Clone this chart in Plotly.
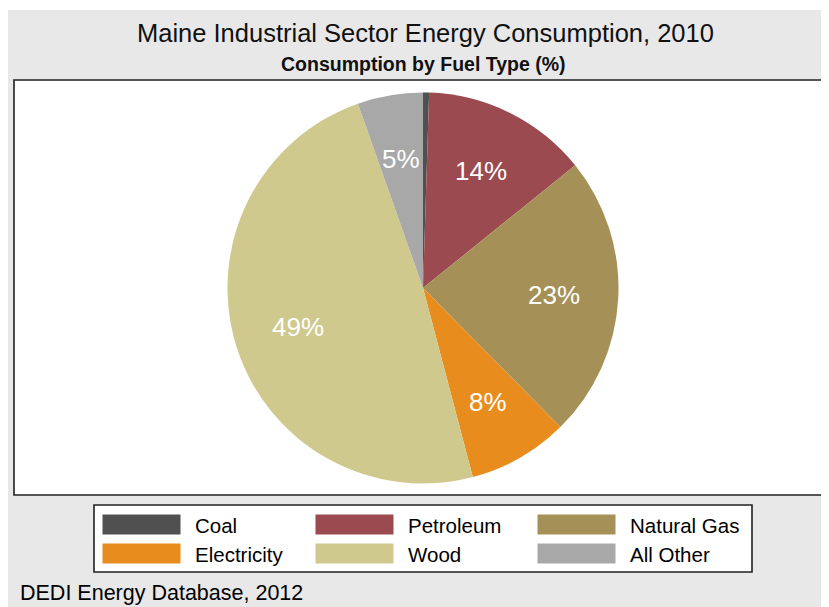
import math
import plotly.graph_objects as go

# page body has an 8px margin; figure is sized to fit the 829x607 window
OFF = 8
W, H = 829 - OFF, 607 - OFF

fuel_types = ["Coal", "Petroleum", "Natural Gas", "Electricity", "Wood", "All Other"]
shares = [0.5, 13.7, 23.4, 8.3, 48.7, 5.4]
colors = ["#505050", "#9b4a50", "#a59158", "#e88c1e", "#cfc98e", "#a8a8a8"]
show_label = [False, True, True, True, True, True]

title = "Maine Industrial Sector Energy Consumption, 2010"
subtitle = "Consumption by Fuel Type (%)"
source = "DEDI Energy Database, 2012"

FONT = "Liberation Sans, Arial, sans-serif"


def px(x):
    return (x - OFF) / W


def py(y):
    return 1 - (y - OFF) / H


# pie geometry (window pixels)
CX, CY, R = 423, 288, 195.5

fig = go.Figure()
fig.add_trace(go.Pie(
    labels=fuel_types,
    values=shares,
    sort=False,
    direction="clockwise",
    rotation=0,
    marker=dict(colors=colors, line=dict(width=0)),
    textinfo="none",
    domain=dict(x=[px(CX - R), px(CX + R)], y=[py(CY + R), py(CY - R)]),
    showlegend=False,
    hoverinfo="label+percent",
))

shapes = [
    dict(type="rect", xref="paper", yref="paper", x0=px(7), x1=1.02, y0=-0.02, y1=py(10),
         fillcolor="#e8e8e8", line=dict(width=0), layer="below"),
    dict(type="rect", xref="paper", yref="paper", x0=px(14), x1=px(845), y0=py(495), y1=py(80),
         fillcolor="white", line=dict(color="#202020", width=1.6), layer="below"),
    dict(type="rect", xref="paper", yref="paper", x0=px(94), x1=px(752), y0=py(572), y1=py(505),
         fillcolor="white", line=dict(color="#202020", width=1.6), layer="below"),
]

annotations = [
    dict(text=title, x=px(425), y=py(33), xref="paper", yref="paper", showarrow=False,
         font=dict(family=FONT, size=25.5, color="#111111"), xanchor="center", yanchor="middle"),
    dict(text="<b>" + subtitle + "</b>", x=px(424), y=py(64), xref="paper", yref="paper",
         showarrow=False,
         font=dict(family=FONT, size=19.5, color="#111111"), xanchor="center", yanchor="middle"),
    dict(text=source, x=px(18), y=py(593), xref="paper", yref="paper", showarrow=False,
         font=dict(family=FONT, size=21.5, color="black"), xanchor="left", yanchor="middle"),
]

# slice percentage labels, placed along each slice's mid-angle
total = sum(shares)
cum = 0.0
for name, v, show in zip(fuel_types, shares, show_label):
    mid = (cum + v / 2) / total * 2 * math.pi
    cum += v
    if not show:
        continue
    lx = CX + 0.67 * R * math.sin(mid)
    ly = CY - 0.67 * R * math.cos(mid)
    annotations.append(dict(text=f"{round(v / total * 100)}%", x=px(lx), y=py(ly),
                            xref="paper", yref="paper", showarrow=False,
                            font=dict(family=FONT, size=26, color="white"),
                            xanchor="center", yanchor="middle"))

# legend (3 columns x 2 rows)
col_sw_x = [102, 315, 537]
row_y = [514, 543]
sw_w, sw_h = 79, 21
text_gap = 12
for i, (name, col) in enumerate(zip(fuel_types, colors)):
    c, r = i % 3, i // 3
    x0 = col_sw_x[c]
    y0 = row_y[r]
    shapes.append(dict(type="rect", xref="paper", yref="paper",
                       x0=px(x0), x1=px(x0 + sw_w), y0=py(y0 + sw_h), y1=py(y0),
                       fillcolor=col, line=dict(color="white", width=1), layer="above"))
    annotations.append(dict(text=name, x=px(x0 + sw_w + text_gap), y=py(y0 + sw_h / 2 + 1),
                            xref="paper", yref="paper", showarrow=False,
                            font=dict(family=FONT, size=20.5, color="black"),
                            xanchor="left", yanchor="middle"))

fig.update_layout(
    width=W, height=H,
    margin=dict(l=0, r=0, t=0, b=0),
    paper_bgcolor="white",
    plot_bgcolor="white",
    shapes=shapes,
    annotations=annotations,
    font=dict(family=FONT),
)

fig.write_html("out.html")
